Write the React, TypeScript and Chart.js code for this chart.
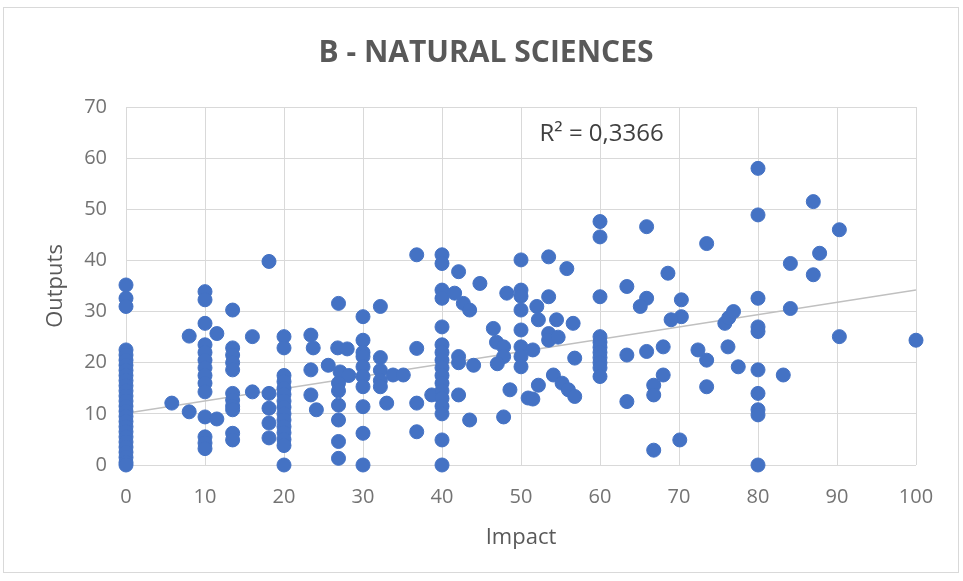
import React, { useEffect, useRef } from "react";
import { Chart, registerables } from "chart.js";

Chart.register(...registerables);

const chartTitle = "B - NATURAL SCIENCES";
const xTitle = "Impact";
const yTitle = "Outputs";
const r2Label = "R² = 0,3366";

// Impact 0 – 20
const impactA = [
  0, 0, 0, 0, 0, 0, 0, 0, 0, 0, 0, 0, 0, 0, 0, 0, 0, 0, 0, 0, 0, 0, 0, 0, 0, 0, 0,
  5.8, 8, 8,
  10, 10, 10, 10, 10, 10, 10, 10, 10, 10, 10, 10, 10, 10,
  11.5, 11.5,
  13.5, 13.5, 13.5, 13.5, 13.5, 13.5, 13.5, 13.5, 13.5, 13.5, 13.5,
  16, 16,
  18.1, 18.1, 18.1, 18.1, 18.1,
];
const outputsA = [
  35.2, 32.6, 31, 22.5, 21.5, 20.5, 19.5, 18.5, 17.5, 16.5, 15.5, 14.5, 13.5, 12.5, 11.5, 10.5, 9.5, 8.5, 7.5, 6.5, 5.5, 4.5, 3.5, 2.5, 1.5, 0.5, 0,
  12.1, 25.2, 10.4,
  33.9, 32.3, 27.7, 23.5, 22, 20.5, 19, 17.5, 16, 14.3, 9.4, 5.5, 4.3, 3.2,
  25.7, 9,
  30.3, 22.9, 21.5, 20, 18.6, 14, 12.7, 11.5, 10.8, 6.2, 4.9,
  25.1, 14.3,
  39.8, 14, 11.1, 8.2, 5.3,
];

// Impact 20 – 40
const impactB = [
  20, 20, 20, 20, 20, 20, 20, 20, 20, 20, 20, 20, 20, 20, 20,
  23.4, 23.7, 23.4, 23.4, 24.1,
  26.9, 26.8, 28, 25.6, 27.1, 28.2, 26.9, 26.9, 26.9, 26.9, 26.9, 26.9,
  30, 30, 30, 30, 30, 30, 30, 30, 30, 30,
  32.2, 32.2, 32.2, 32.2, 32.2,
  33, 33.8, 35.1,
  36.8, 36.8, 36.8, 36.8, 38.7,
];
const outputsB = [
  25.1, 22.9, 17.5, 16.3, 15, 13.8, 12.5, 11.3, 10, 8.8, 7.5, 6.3, 5, 3.8, 0,
  25.4, 22.9, 18.6, 13.7, 10.8,
  31.6, 22.9, 22.7, 19.5, 18.2, 17.5, 16, 14.5, 11.7, 8.8, 4.6, 1.3,
  29, 24.4, 22, 21.2, 19.2, 17.3, 15.3, 11.4, 6.2, 0,
  31, 21, 18.5, 16.5, 15.3,
  12.1, 17.6, 17.6,
  41.1, 22.8, 12.1, 6.5, 13.7,
];

// Impact 40 – 60
const impactC = [
  40, 40, 40, 40, 40, 40, 40, 40, 40, 40, 40, 40, 40, 40, 40, 40, 40,
  42.1, 41.6, 42.7, 43.5, 44.8, 42.1, 42.1, 44, 42.1, 43.5,
  46.5, 46.9, 47.8, 47.8, 47, 48.2, 48.6, 47.8,
  50, 50, 50, 50, 50, 50, 50, 50,
  50.9, 51.5, 52.2, 51.5,
  53.5, 55.8, 53.5, 52, 52.2, 54.5, 56.6, 53.5, 53.5, 54.7, 54.1, 55.2, 56, 56.8, 56.8,
];
const outputsC = [
  41.1, 39.4, 34.2, 32.6, 27, 23.5, 22, 20.5, 19, 17.5, 16, 14.5, 13, 11.5, 10, 4.9, 0,
  37.8, 33.6, 31.6, 30.3, 35.5, 21.2, 20, 19.5, 13.7, 8.8,
  26.7, 24, 23.1, 21.2, 19.8, 33.6, 14.7, 9.4,
  40.1, 34.2, 33, 30.3, 26.4, 23.1, 21.2, 19.2,
  13.1, 12.9, 15.6, 22.5,
  40.7, 38.4, 32.9, 31, 28.4, 28.4, 27.7, 25.7, 24.4, 25, 17.6, 16, 14.7, 13.4, 20.9,
];

// Impact 60 – 100
const impactD = [
  60, 60, 60, 60, 60, 60, 60, 60, 60, 60, 60,
  63.4, 63.4, 63.4,
  65.9, 65.9, 65.1, 65.9,
  68, 68, 66.8, 66.8, 66.8,
  70.1, 68.6, 70.3, 70.3, 69,
  73.5, 73.5, 73.5, 72.4,
  75.8, 76.3, 76.9, 76.2, 77.5,
  80, 80, 80, 80, 80, 80, 80, 80, 80, 80,
  83.2, 84.1, 84.1, 87, 87, 87.8, 90.3, 90.3, 100,
];
const outputsD = [
  47.6, 44.6, 32.9, 25.1, 24, 23, 22, 21, 20, 19, 17.3,
  34.9, 21.5, 12.4,
  46.6, 32.6, 31, 22.2,
  23.1, 17.6, 15.6, 13.7, 2.9,
  4.9, 37.5, 32.3, 29, 28.4,
  43.3, 20.5, 15.3, 22.5,
  27.7, 28.8, 30, 23.1, 19.2,
  58, 48.9, 32.6, 27, 26.1, 18.6, 14, 10.8, 9.8, 0,
  17.6, 39.4, 30.6, 51.5, 37.2, 41.4, 46, 25.1, 24.4,
];

const trendImpact = [0, 100];
const trendOutputs = [10.1, 34.2];

const FONT = "'Open Sans', Roboto, sans-serif";
const GREY = "#595959";
const TICK_GREY = "#737373";

export default function App() {
  const ref = useRef<HTMLCanvasElement | null>(null);

  useEffect(() => {
    if (!ref.current) return;
    const xs = [...impactA, ...impactB, ...impactC, ...impactD];
    const ys = [...outputsA, ...outputsB, ...outputsC, ...outputsD];
    const points = xs.map((x, i) => ({ x, y: ys[i] }));
    const trend = trendImpact.map((x, i) => ({ x, y: trendOutputs[i] }));

    const decor = {
      id: "decor",
      beforeDraw(chart: any) {
        const ctx = chart.ctx;
        ctx.save();
        ctx.fillStyle = "#ffffff";
        ctx.fillRect(0, 0, chart.width, chart.height);
        ctx.strokeStyle = "#d9d9d9";
        ctx.lineWidth = 1;
        ctx.strokeRect(3.5, 7.5, 955, 565);
        ctx.restore();
      },
      afterDraw(chart: any) {
        const ctx = chart.ctx;
        ctx.save();
        ctx.fillStyle = GREY;
        ctx.font = `bold 30px ${FONT}`;
        ctx.textAlign = "center";
        ctx.textBaseline = "middle";
        ctx.fillText(chartTitle, 486, 53);
        const xs = chart.scales.x;
        const ys = chart.scales.y;
        ctx.fillStyle = "#404040";
        ctx.font = `24px ${FONT}`;
        ctx.fillText(r2Label, xs.getPixelForValue(60.2), ys.getPixelForValue(64.6));
        ctx.restore();
      },
    };

    const chart = new Chart(ref.current, {
      type: "scatter",
      data: {
        datasets: [
          {
            label: "Outputs",
            data: points,
            backgroundColor: "#4472C4",
            borderColor: "#4472C4",
            borderWidth: 1,
            pointRadius: 7,
            clip: false,
            order: 1,
          } as any,
          {
            type: "line",
            label: "Trend",
            data: trend,
            borderColor: "#c0c0c0",
            borderWidth: 1.5,
            pointRadius: 0,
            fill: false,
            order: 2,
          } as any,
        ],
      },
      options: {
        animation: false,
        responsive: false,
        devicePixelRatio: 1,
        layout: { padding: { top: 107, right: 47, bottom: 0, left: 0 } },
        plugins: {
          legend: { display: false },
          tooltip: { enabled: false },
          title: { display: false },
        },
        scales: {
          x: {
            type: "linear",
            min: 0,
            max: 100,
            afterFit: (s: any) => {
              s.height = 116;
            },
            ticks: {
              stepSize: 10,
              padding: 20,
              color: TICK_GREY,
              font: { family: FONT, size: 20 },
            },
            grid: { color: "#d9d9d9", drawTicks: false },
            border: { display: false },
            title: {
              display: true,
              text: xTitle,
              color: GREY,
              font: { family: FONT, size: 22 },
              padding: { top: 0, bottom: 30 },
            },
          },
          y: {
            type: "linear",
            min: 0,
            max: 70,
            afterFit: (s: any) => {
              s.width = 126;
            },
            ticks: {
              stepSize: 10,
              padding: 19,
              color: TICK_GREY,
              font: { family: FONT, size: 20 },
            },
            grid: { color: "#d9d9d9", drawTicks: false },
            border: { display: false },
            title: {
              display: true,
              text: yTitle,
              color: GREY,
              font: { family: FONT, size: 22 },
              padding: { top: 43, bottom: 0 },
            },
          },
        },
      },
      plugins: [decor],
    });
    return () => chart.destroy();
  }, []);

  return (
    <div style={{ position: "absolute", left: 0, top: 0, width: 963, height: 581 }}>
      <canvas ref={ref} width={963} height={581} style={{ width: 963, height: 581 }} />
    </div>
  );
}
